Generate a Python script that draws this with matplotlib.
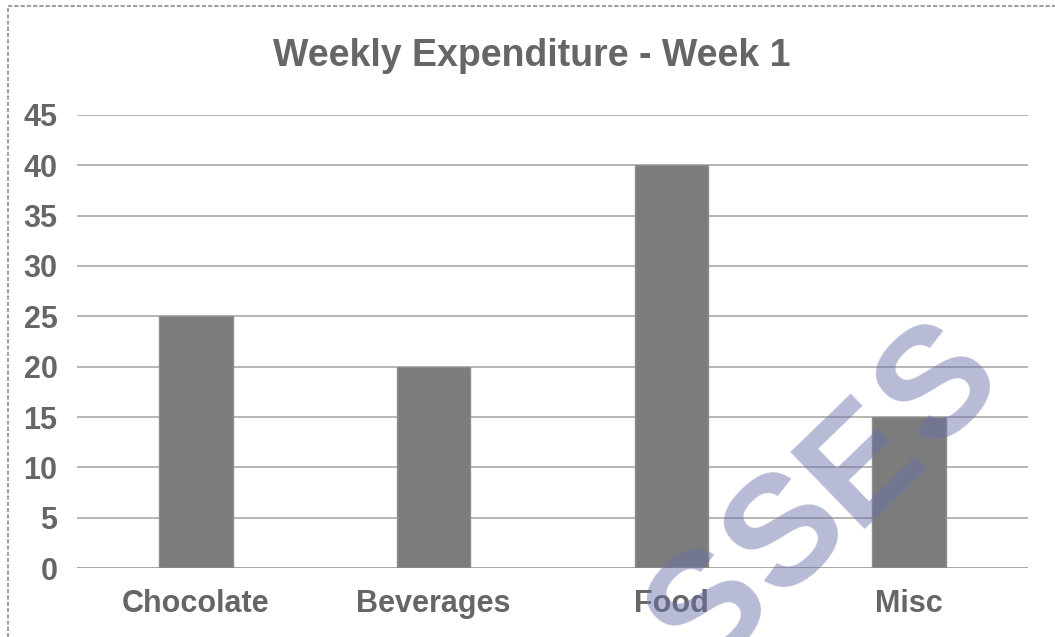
import matplotlib.pyplot as plt
from matplotlib.patches import Rectangle

# chart data
categories = ["Chocolate", "Beverages", "Food", "Misc"]
spend = [25, 20, 40, 15]
y_ticks = [0, 5, 10, 15, 20, 25, 30, 35, 40, 45]

plt.rcParams['font.family'] = ['Liberation Sans', 'DejaVu Sans']
text_grey = '#666666'

fig = plt.figure(figsize=(10.55, 6.37), dpi=100)
ax = fig.add_axes([0.073, 0.1083, 0.9014, 0.7112])

# gridlines behind the bars
for t in y_ticks[1:]:
    ax.axhline(t, color='#b5b5b5', lw=1.4, zorder=1)
ax.axhline(0, color='#8a8a8a', lw=1.8, zorder=3)

x = range(len(categories))
ax.bar(x, spend, width=0.31, color='#7c7c7c', edgecolor='#8e8e8e', lw=1, zorder=2)

ax.set_xlim(-0.5, len(categories) - 0.5)
ax.set_ylim(0, 45)
ax.set_yticks(y_ticks)
ax.set_xticks(list(x))
ax.set_xticklabels(categories)
ax.tick_params(axis='both', length=0, labelsize=22, colors=text_grey)
ax.tick_params(axis='y', pad=14)
ax.tick_params(axis='x', pad=15)
for lbl in ax.get_xticklabels() + ax.get_yticklabels():
    lbl.set_fontweight('bold')
for s in ax.spines.values():
    s.set_visible(False)

fig.text(0.5045, 0.912, "Weekly Expenditure - Week 1", ha='center', va='center',
         fontsize=27, fontweight='bold', color=text_grey)

# outer frame of the chart
fig.patches.append(Rectangle((8 / 1055, -0.05), 1.1, 1 - 6 / 637 + 0.05,
                             transform=fig.transFigure, fill=False,
                             edgecolor='#a0a0a0', lw=1.5, ls=(0, (2, 1))))

# watermark letters, spaced wide along a diagonal (first one runs off the bottom)
wm_letters = ["S", "S", "E", "S"]
wm_centres = [(700, 600), (777, 524), (853, 452), (929, 376)]
for ch, (px, py) in zip(wm_letters, wm_centres):
    fig.text(px / 1055, 1 - py / 637, ch, ha='center', va='center_baseline',
             rotation=44, rotation_mode='anchor', fontsize=112, fontweight='bold',
             color='#6b70aa', alpha=0.48, zorder=10)

fig.savefig('out.png', dpi=100)
